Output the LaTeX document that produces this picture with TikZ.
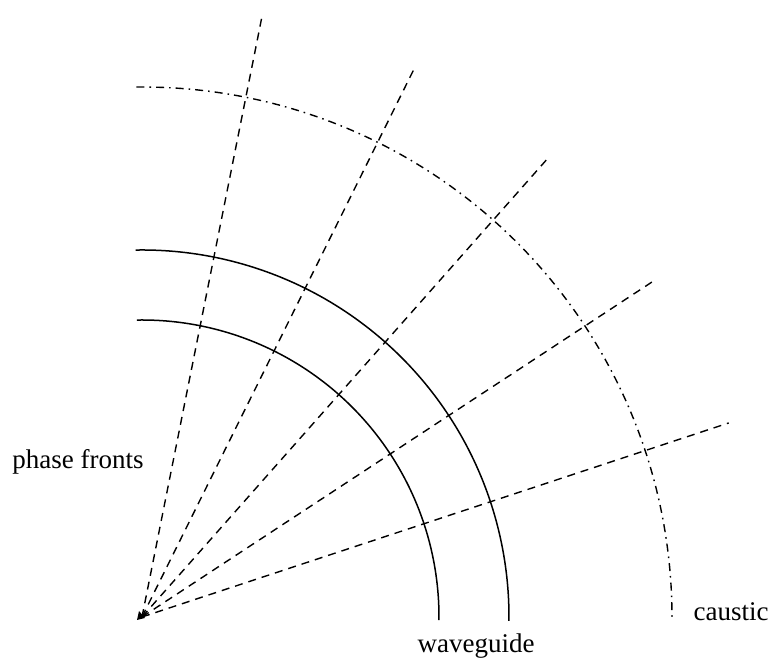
\documentclass[tikz,border=0pt]{standalone}
\usepackage{fontspec}
\setmainfont{Liberation Serif}
\usepackage{tikz}
\usetikzlibrary{positioning, calc}

\begin{document}
\begin{tikzpicture}[x=0.5pt, y=0.5pt, line width=0.7pt,
    ray/.style={dash pattern=on 4pt off 3pt},
    guide/.style={line width=0.75pt},
    causticline/.style={dash pattern=on 4pt off 2.5pt on 0.8pt off 2.5pt},
    lbl/.style={font=\fontsize{13.5}{16}\selectfont, inner sep=0pt}]
  \useasboundingbox (0,0) rectangle (775,662);
  \coordinate (O) at (142,45);

  % waveguide and caustic
  \draw[guide] (O) ++(91:297) arc[start angle=91, end angle=-0.6, radius=297];
  \draw[guide] (O) ++(91:367) arc[start angle=91, end angle=-0.6, radius=367];
  \draw[causticline] (O) ++(90.6:530) arc[start angle=90.6, end angle=-0.3, radius=530];

  % rays
  \foreach \a/\l in {18.3/618, 33.3/615, 48.5/614, 63.6/615, 78.7/616}
    \draw[ray] (O) -- ++(\a:\l);
  \fill (O) ++(-3,6) -- ++(-2,-9) -- ++(8,2) -- cycle;

  \node[lbl] (phase) at (78,200) {phase fronts};
  \node[lbl] (waveguide) at (476,16) {waveguide};
  \node[lbl] (caustic) at (731,50) {caustic};
\end{tikzpicture}
\end{document}
